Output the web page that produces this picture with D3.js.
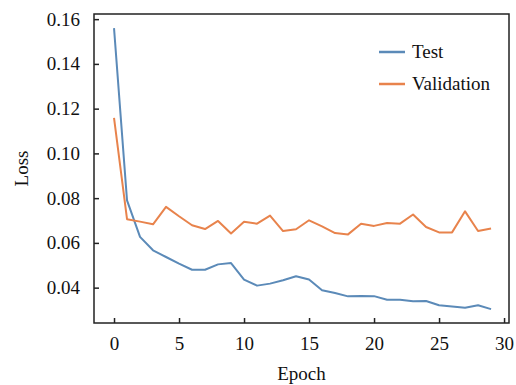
<!DOCTYPE html>
<html>
<head>
<meta charset="utf-8">
<script src="https://cdn.jsdelivr.net/npm/d3@7"></script>
<style>
  body { margin: 0; background: #fff; }
  svg text { font-family: "Liberation Serif", "Times New Roman", serif; fill: #111; }
</style>
</head>
<body>
<div id="chart"></div>
<script>
// values
const epochs = d3.range(0, 30);
const testLoss = [0.156, 0.079, 0.0627, 0.0567, 0.0537, 0.0507, 0.0480, 0.0480, 0.0504, 0.0510,
                  0.0436, 0.0409, 0.0418, 0.0433, 0.0451, 0.0436, 0.0388, 0.0376, 0.0361, 0.0363,
                  0.0362, 0.0346, 0.0346, 0.0339, 0.0340, 0.0321, 0.0316, 0.0310, 0.0321, 0.0304];
const valLoss = [0.1159, 0.0706, 0.0695, 0.0683, 0.0761, 0.0719, 0.0679, 0.0662, 0.0698, 0.0642,
                 0.0694, 0.0686, 0.0722, 0.0653, 0.0661, 0.0701, 0.0674, 0.0644, 0.0638, 0.0686,
                 0.0676, 0.0689, 0.0686, 0.0727, 0.0671, 0.0647, 0.0647, 0.0741, 0.0653, 0.0664];
const xTicks = [0, 5, 10, 15, 20, 25, 30];
const yTicks = [0.04, 0.06, 0.08, 0.10, 0.12, 0.14, 0.16];
const seriesNames = ['Test', 'Validation'];
const seriesColors = ['#5b8ab8', '#e8834c'];

const width = 516, height = 385;
const plotLeft = 94, plotRight = 509, plotTop = 14, plotBottom = 323;

const svg = d3.select('#chart').append('svg')
    .attr('width', width)
    .attr('height', height);

const x = d3.scaleLinear().domain([-1.54, 30.38]).range([plotLeft, plotRight]);
const y = d3.scaleLinear().domain([0.0242, 0.1623]).range([plotBottom, plotTop]);

// lines
const line = d3.line()
    .x((d, i) => x(epochs[i]))
    .y(d => y(d));

[testLoss, valLoss].forEach((vals, k) => {
    svg.append('path')
        .datum(vals)
        .attr('d', line)
        .attr('fill', 'none')
        .attr('stroke', seriesColors[k])
        .attr('stroke-width', 2)
        .attr('stroke-linejoin', 'round');
});

// frame
svg.append('rect')
    .attr('x', plotLeft).attr('y', plotTop)
    .attr('width', plotRight - plotLeft).attr('height', plotBottom - plotTop)
    .attr('fill', 'none')
    .attr('stroke', '#222')
    .attr('stroke-width', 1.5);

// axes, ticks pointing inward
const xAxis = d3.axisBottom(x).tickValues(xTicks).tickSizeInner(-5).tickSizeOuter(0).tickPadding(14)
    .tickFormat(d3.format('d'));
const gx = svg.append('g').attr('transform', `translate(0,${plotBottom})`).call(xAxis);

const yAxis = d3.axisLeft(y).tickValues(yTicks).tickSizeInner(-5).tickSizeOuter(0).tickPadding(14)
    .tickFormat(d3.format('.2f'));
const gy = svg.append('g').attr('transform', `translate(${plotLeft},0)`).call(yAxis);

[gx, gy].forEach(g => {
    g.select('.domain').remove();
    g.selectAll('.tick line').attr('stroke', '#222').attr('stroke-width', 1.5);
    g.selectAll('.tick text')
        .attr('font-size', 19)
        .attr('font-family', '"Liberation Serif", serif')
        .attr('fill', '#111');
});

// axis titles
svg.append('text')
    .attr('x', (plotLeft + plotRight) / 2)
    .attr('y', 380)
    .attr('text-anchor', 'middle')
    .attr('font-size', 19)
    .text('Epoch');

svg.append('text')
    .attr('transform', `translate(28,${(plotTop + plotBottom) / 2}) rotate(-90)`)
    .attr('text-anchor', 'middle')
    .attr('font-size', 19)
    .text('Loss');

// legend
const legend = svg.append('g');
seriesNames.forEach((name, k) => {
    const ly = 52 + k * 32;
    legend.append('line')
        .attr('x1', 379).attr('x2', 405)
        .attr('y1', ly).attr('y2', ly)
        .attr('stroke', seriesColors[k])
        .attr('stroke-width', 2.5);
    legend.append('text')
        .attr('x', 412)
        .attr('y', ly + 6)
        .attr('font-size', 19)
        .text(name);
});
</script>
</body>
</html>
